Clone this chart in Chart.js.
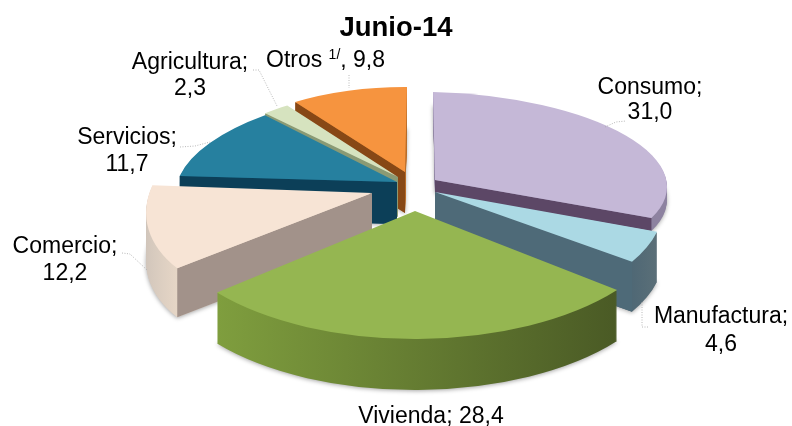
<!DOCTYPE html>
<html>
<head>
<meta charset="utf-8">
<style>
  html, body { margin: 0; padding: 0; background: #fff; }
  canvas { display: block; }
</style>
<script src="https://cdn.jsdelivr.net/npm/chart.js@4"></script>
</head>
<body>
<canvas id="pieChart" width="792" height="426"></canvas>
<script>
    // Pie data
    const categories = ['Consumo', 'Manufactura', 'Vivienda', 'Comercio', 'Servicios', 'Agricultura', 'Otros'];
    const values = [31.0, 4.6, 28.4, 12.2, 11.7, 2.3, 9.8];

    // Slice colours: top face, outer wall (left, right), cut wall
    const topColors = ['#C5B8D7', '#ABD9E4', '#95B651', '#F7E4D5', '#26809F', '#D6E3BF', '#F6943F'];
    const wallLeft = ['#8D82A0', '#4F6875', '#7F9E3E', '#CFC4BA', '#12506C', '#8F9E78', '#B86C28'];
    const wallRight = ['#8D82A0', '#5B6F78', '#4A5A25', '#E6D6C6', '#12506C', '#8F9E78', '#B86C28'];
    const cutColors = ['#5C4766', '#4E6A78', '#5F7A2E', '#A2928A', '#0C3F58', '#8A9A74', '#874816'];

    // Where each slice sits on the page: apex, radii, skew (the original has perspective), wall depth
    const sliceX = [435, 435, 415, 372, 397, 398, 405];
    const sliceY = [180, 192, 211, 193, 182, 177, 172];
    const sliceRx = [232, 227, 257, 223, 220, 196, 193];
    const sliceRy = [88, 118, 128, 117, 93, 87, 85];
    const sliceKx = [2, 30, 0, -36, -27, -3, -2];
    const sliceKy = [6, -4, 0, -1, -1, 1, 1];
    const sliceDepth = [13, 50, 51, 49, 42, 40, 41];

    // Back to front
    const drawOrder = [6, 5, 4, 3, 0, 1, 2];

    // Data labels: text lines, centre x, centre y of each line
    const labelLines = [
        { lines: ['Consumo;', '31,0'], x: 650, y: [88, 113] },
        { lines: ['Manufactura;', '4,6'], x: 721, y: [317, 345] },
        { lines: ['Vivienda; 28,4'], x: 431, y: [417] },
        { lines: ['Comercio;', '12,2'], x: 65, y: [247, 274] },
        { lines: ['Servicios;', '11,7'], x: 127, y: [138, 165] },
        { lines: ['Agricultura;', '2,3'], x: 190, y: [63, 89] }
    ];

    // Dotted leader lines
    const leaders = [
        [[605, 127], [616, 122], [626, 121]],
        [[642, 302], [642, 327], [649, 327]],
        [[122, 253], [130, 254], [147, 270]],
        [[180, 147], [195, 146], [210, 142]],
        [[253, 70], [259, 70], [277, 106]],
        [[349, 75], [349, 88]]
    ];

    const labelFont = '23px "Liberation Sans", Arial, sans-serif';

    function drawSlice(ctx, arc, i) {
        const ax = arc.x, ay = arc.y, R = arc.outerRadius;
        const tx = sliceX[i], ty = sliceY[i];
        const rx = sliceRx[i], ry = sliceRy[i], kx = sliceKx[i], ky = sliceKy[i], depth = sliceDepth[i];
        const base = arc.options;

        const placed = (d, fn) => {
            ctx.save();
            ctx.translate(tx, ty + d);
            ctx.transform(rx / R, ky / R, kx / R, ry / R, 0, 0);
            ctx.translate(-ax, -ay);
            fn();
            ctx.restore();
        };

        // Outer wall, stacked up from the bottom
        for (let d = depth; d > 0; d--) {
            placed(d, () => {
                if (d === depth) {
                    ctx.shadowColor = 'rgba(0,0,0,0.35)';
                    ctx.shadowBlur = 4;
                    ctx.shadowOffsetY = 1;
                }
                const g = ctx.createLinearGradient(
                    ax + R * Math.min(Math.cos(arc.startAngle), Math.cos(arc.endAngle)), 0,
                    ax + R * Math.max(Math.cos(arc.startAngle), Math.cos(arc.endAngle)), 0);
                g.addColorStop(0, wallLeft[i]);
                g.addColorStop(1, wallRight[i]);
                arc.options = { ...base, backgroundColor: g };
                arc.draw(ctx);
            });
        }
        arc.options = base;

        // Cut walls, only the ones that face the viewer
        [arc.startAngle, arc.endAngle].forEach((angle) => {
            const c = Math.cos(angle), s = Math.sin(angle);
            if (Math.abs(c) < 0.05) return;
            let a = Math.atan2(s * 0.5 + 0.02, c * 0.5);
            while (a < arc.startAngle) a += Math.PI * 2;
            if (a < arc.endAngle) return;
            const px = rx * c + kx * s, py = ky * c + ry * s;
            ctx.save();
            ctx.translate(tx, ty);
            ctx.fillStyle = cutColors[i];
            ctx.beginPath();
            ctx.moveTo(0, 0);
            ctx.lineTo(px, py);
            ctx.lineTo(px, py + depth);
            ctx.lineTo(0, depth);
            ctx.closePath();
            ctx.fill();
            ctx.restore();
        });

        // Top face
        placed(0, () => arc.draw(ctx));
    }

    const pie3d = {
        id: 'pie3d',
        beforeDatasetsDraw(chart) {
            const ctx = chart.ctx;
            const arcs = chart.getDatasetMeta(0).data;
            drawOrder.forEach((i) => drawSlice(ctx, arcs[i], i));
            return false;
        }
    };

    const pieLabels = {
        id: 'pieLabels',
        afterDraw(chart) {
            const ctx = chart.ctx;
            ctx.save();

            ctx.strokeStyle = '#A6A6A6';
            ctx.lineWidth = 0.8;
            ctx.setLineDash([1, 1.5]);
            leaders.forEach((pts) => {
                ctx.beginPath();
                pts.forEach((p, k) => (k ? ctx.lineTo(p[0], p[1]) : ctx.moveTo(p[0], p[1])));
                ctx.stroke();
            });
            ctx.setLineDash([]);

            ctx.fillStyle = '#000';
            ctx.font = labelFont;
            ctx.textBaseline = 'middle';
            ctx.textAlign = 'center';
            labelLines.forEach((l) => {
                l.lines.forEach((t, k) => ctx.fillText(t, l.x, l.y[k]));
            });

            // Otros has a superscript note
            ctx.textAlign = 'left';
            let x = 266;
            ctx.fillText('Otros ', x, 61);
            x += ctx.measureText('Otros ').width;
            ctx.font = '14px "Liberation Sans", Arial, sans-serif';
            ctx.fillText('1/', x, 55);
            x += ctx.measureText('1/').width;
            ctx.font = labelFont;
            ctx.fillText(', 9,8', x, 61);

            ctx.restore();
        }
    };

    const data = {
        labels: categories,
        datasets: [{
            data: values,
            backgroundColor: topColors,
            borderWidth: 0
        }]
    };

    const config = {
        type: 'pie',
        data: data,
        plugins: [pie3d, pieLabels],
        options: {
            responsive: false,
            animation: false,
            plugins: {
                legend: { display: false },
                tooltip: { enabled: false },
                title: {
                    display: true,
                    text: 'Junio-14',
                    color: '#000',
                    font: { family: '"Liberation Sans", Arial, sans-serif', size: 27.5, weight: 'bold' },
                    padding: { top: 12, bottom: 4 }
                }
            }
        }
    };

    const pieChart = new Chart(document.getElementById('pieChart'), config);
</script>
</body>
</html>
